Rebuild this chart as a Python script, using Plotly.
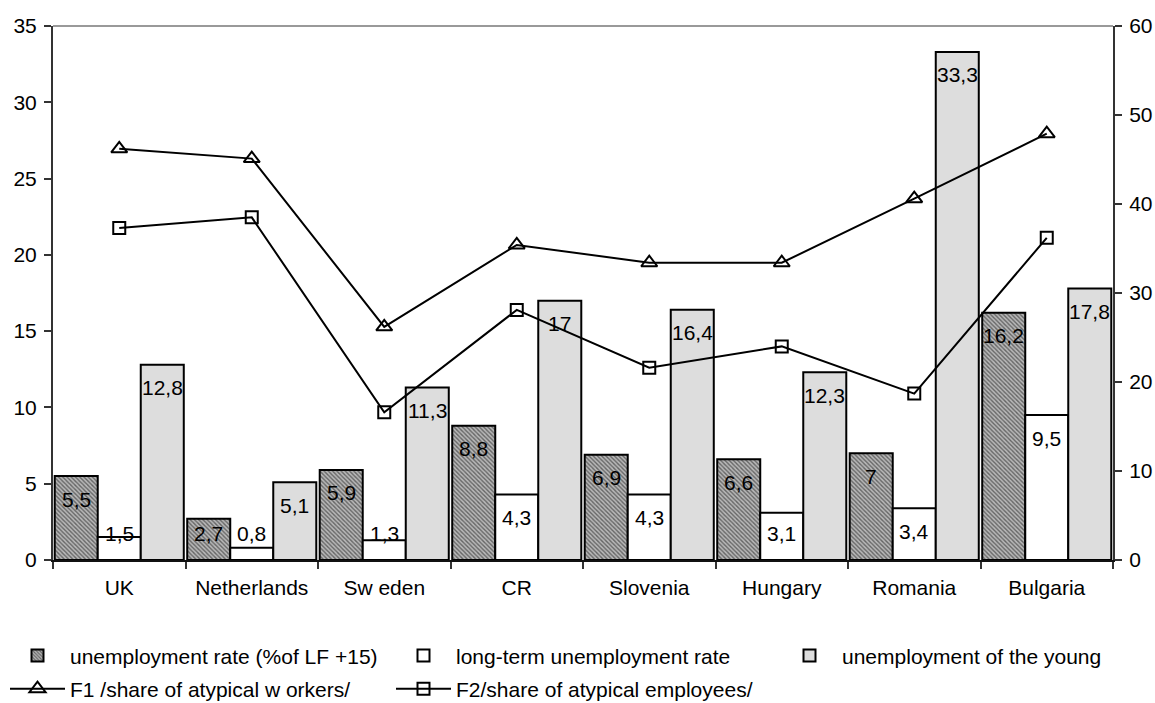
import plotly.graph_objects as go

countries = ["UK", "Netherlands", "Sw eden", "CR", "Slovenia", "Hungary", "Romania", "Bulgaria"]

unemployment_rate = [5.5, 2.7, 5.9, 8.8, 6.9, 6.6, 7, 16.2]
long_term_rate = [1.5, 0.8, 1.3, 4.3, 4.3, 3.1, 3.4, 9.5]
young_rate = [12.8, 5.1, 11.3, 17, 16.4, 12.3, 33.3, 17.8]

f1_atypical_workers = [46.2, 45.1, 26.2, 35.4, 33.4, 33.4, 40.6, 47.9]
f2_atypical_employees = [37.3, 38.5, 16.6, 28.1, 21.6, 24.0, 18.7, 36.2]

left_ticks = [0, 5, 10, 15, 20, 25, 30, 35]
right_ticks = [0, 10, 20, 30, 40, 50, 60]

FONT = "Liberation Sans, Arial, sans-serif"
FS = 21
W, H = 1155, 703
M_L, M_R, M_T, M_B = 53, 42, 26, 143
BARGAP = 0.026

fig = go.Figure()

bar_series = [
    ("unemployment rate (%of LF +15)", unemployment_rate,
     dict(shape="\\", fgcolor="#111111", bgcolor="#b8b8b8", size=3, solidity=0.45), "legend"),
    ("long-term unemployment rate", long_term_rate, None, "legend2"),
    ("unemployment of the young", young_rate,
     dict(shape=".", fgcolor="#999999", bgcolor="#eeeeee", size=2, solidity=0.45), "legend3"),
]

for k, (name, vals, pattern, leg) in enumerate(bar_series):
    marker = dict(color="white", line=dict(color="black", width=2))
    if pattern is not None:
        marker["pattern"] = pattern
    fig.add_trace(go.Bar(x=countries, y=vals, name=name, marker=marker,
                         yaxis="y", legend=leg, legendgroup=f"g{k}", hoverinfo="skip"))

fig.add_trace(go.Scatter(
    x=countries, y=f1_atypical_workers, name="F1 /share of atypical w orkers/",
    mode="lines+markers", yaxis="y2", legend="legend", legendgroup="g3",
    line=dict(color="black", width=2),
    marker=dict(symbol="triangle-up-open", size=14, color="black", line=dict(width=2))))
fig.add_trace(go.Scatter(
    x=countries, y=f2_atypical_employees, name="F2/share of atypical employees/",
    mode="lines+markers", yaxis="y2", legend="legend2", legendgroup="g4",
    line=dict(color="black", width=2),
    marker=dict(symbol="square-open", size=12, color="black", line=dict(width=2))))

# value labels placed inside the top of each bar (or just above the base for short bars)
plot_h = H - M_T - M_B
px_per_unit = plot_h / max(left_ticks)
bar_w = (1 - BARGAP) / 3
annotations = []
for k, (_, vals, _, _) in enumerate(bar_series):
    offset = (k - 1) * bar_w
    for i, v in enumerate(vals):
        label = f"{v:g}".replace(".", ",")
        top_px = v * px_per_unit
        if top_px - 23 >= 27:
            y, shift = v, -23
        else:
            y, shift = 0, 27
        annotations.append(dict(
            x=i + offset, y=y, xref="x", yref="y", text=label, showarrow=False,
            yshift=shift, yanchor="middle", xanchor="center",
            font=dict(family=FONT, size=FS, color="black")))

axis_font = dict(family=FONT, size=FS, color="black")
legend_font = dict(family=FONT, size=FS, color="black")
plot_w = W - M_L - M_R


def legend_at(x_px):
    return dict(orientation="v", x=(x_px - M_L) / plot_w, xanchor="left",
                y=-0.141, yanchor="top",
                itemwidth=55, font=legend_font, traceorder="grouped", tracegroupgap=3,
                bgcolor="rgba(0,0,0,0)", itemclick=False, itemdoubleclick=False)


fig.update_layout(
    width=W, height=H,
    margin=dict(l=M_L, r=M_R, t=M_T, b=M_B, autoexpand=False),
    paper_bgcolor="white", plot_bgcolor="white",
    barmode="group", bargap=BARGAP, bargroupgap=0,
    font=dict(family=FONT, size=FS, color="black"),
    showlegend=True,
    legend=legend_at(5),
    legend2=legend_at(391),
    legend3=legend_at(777),
    xaxis=dict(type="category", showline=True, linecolor="#111", linewidth=2,
               ticks="outside", tickson="boundaries", ticklen=7, tickcolor="#333",
               tickwidth=1.5, tickfont=axis_font, showgrid=False, zeroline=False,
               ticklabelstandoff=8, range=[-0.5, len(countries) - 0.5]),
    yaxis=dict(range=[0, 35], tickvals=left_ticks, showline=True, linecolor="#333",
               linewidth=2, ticks="outside", ticklen=7, tickcolor="#333", tickwidth=1.5,
               tickfont=axis_font, showgrid=False, zeroline=False, ticklabelstandoff=3),
    yaxis2=dict(range=[0, 60], tickvals=right_ticks, overlaying="y", side="right",
                showline=True, linecolor="#333", linewidth=2, ticks="outside", ticklen=7,
                tickcolor="#333", tickwidth=1.5, tickfont=axis_font, showgrid=False,
                zeroline=False, ticklabelstandoff=3),
    yaxis3=dict(range=[0, 35], tickvals=left_ticks, overlaying="y", side="left",
                showline=False, ticks="inside", ticklen=6, tickcolor="#333", tickwidth=1.5,
                showticklabels=False, showgrid=False, zeroline=False),
    yaxis4=dict(range=[0, 60], tickvals=right_ticks, overlaying="y", side="right",
                showline=False, ticks="inside", ticklen=6, tickcolor="#333", tickwidth=1.5,
                showticklabels=False, showgrid=False, zeroline=False),
    annotations=annotations,
    shapes=[dict(type="line", xref="paper", yref="paper", x0=0, x1=1, y0=1, y1=1,
                 line=dict(color="#999", width=2))],
)

fig.write_html("out.html")
